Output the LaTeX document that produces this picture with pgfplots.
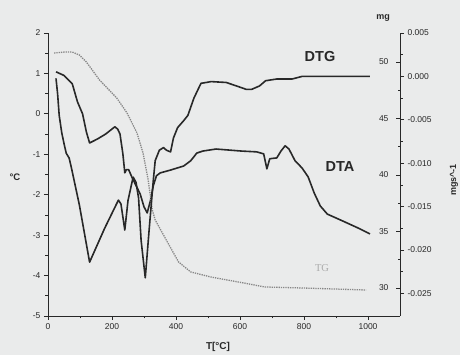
\documentclass[border=0pt]{standalone}
\usepackage{pgfplots}
\pgfplotsset{compat=1.18}
\usepackage{fontspec}
\setmainfont{Liberation Sans}
\newfontfamily\seriffont{Liberation Serif}
\definecolor{bg}{RGB}{234,235,235}
\definecolor{ink}{RGB}{40,40,40}
\definecolor{tgc}{RGB}{135,135,135}
\definecolor{tglab}{RGB}{170,170,170}
\begin{document}
\begin{tikzpicture}
\fill[bg] (-48pt,-39pt) rectangle (412pt,316pt);
\useasboundingbox (-48pt,-39pt) rectangle (412pt,316pt);
\pgfplotsset{
  base/.style={scale only axis, width=352pt, height=283pt, xmin=0, xmax=1100,
    tick label style={font=\fontsize{8.5}{9}\selectfont, text=ink},
    /pgf/number format/assume math mode=true,
    /pgf/number format/1000 sep={},
    axis line style={ink, line width=0.9pt, -},
    tick style={ink, line width=0.8pt},
    major tick length=4pt, minor tick length=2.5pt},
  curve/.style={ink, line width=1.6pt, line join=round, no marks},
}
% DTA, left axis (deg C)
\begin{axis}[base, axis x line*=bottom, axis y line*=left, tick align=outside,
  ymin=-5, ymax=2, ytick={-5,-4,...,2}, minor y tick num=1,
  xtick={0,200,...,1000}, minor x tick num=1]
\addplot[curve] coordinates {
(25,1.04) (50,0.95) (76,0.74) (92,0.30) (108,0.0) (120,-0.45) (130,-0.72)
(155,-0.62) (180,-0.50) (209,-0.32) (218,-0.38) (225,-0.50) (234,-0.99)
(240,-1.46) (245,-1.38) (252,-1.38) (263,-1.58) (288,-1.98) (300,-2.30)
(310,-2.45) (320,-2.15) (329,-1.78) (339,-1.53) (351,-1.46) (383,-1.39)
(424,-1.29) (446,-1.16) (465,-0.97) (484,-0.92) (525,-0.87) (604,-0.92)
(652,-0.94) (674,-0.99) (684,-1.36) (693,-1.11) (715,-1.09) (728,-0.92)
(741,-0.79) (753,-0.87) (772,-1.16) (794,-1.34) (813,-1.56) (832,-1.96)
(851,-2.28) (873,-2.48) (921,-2.65) (968,-2.82) (1006,-2.97)};
\end{axis}
% TG, mg axis (labels inside)
\begin{axis}[base, axis x line=none, axis y line*=right, tick align=inside,
  ymin=27.52, ymax=52.57, ytick={30,35,...,50}, minor y tick num=1,
  yticklabel style={anchor=east, xshift=-8pt}]
\addplot[tgc, densely dotted, line width=1.3pt, no marks] coordinates {
(19,50.80) (51,50.88) (76,50.88) (98,50.62) (120,50.0) (161,48.41)
(215,46.81) (247,45.49) (278,43.72) (297,41.95) (313,39.56) (326,36.90)
(335,36.02) (373,34.07) (408,32.30) (446,31.42) (509,30.97) (595,30.53)
(677,30.09) (794,30.0) (994,29.82)};
\end{axis}
% DTG, mg/s axis
\begin{axis}[base, axis x line=none, axis y line*=right, tick align=outside,
  ymin=-0.0276, ymax=0.005, ytick={-0.025,-0.02,...,0.005}, minor y tick num=1,
  scaled y ticks=false,
  yticklabel style={/pgf/number format/.cd, fixed, fixed zerofill, precision=3}]
\addplot[curve] coordinates {
(25,-0.00023) (30,-0.0020) (35,-0.0045) (43,-0.0065) (51,-0.0079)
(57,-0.00885) (66,-0.0094) (73,-0.0105) (98,-0.0148) (130,-0.0214)
(177,-0.0175) (220,-0.01425) (228,-0.0147) (240,-0.0177) (250,-0.0143)
(266,-0.0116) (275,-0.0122) (283,-0.0140) (291,-0.0189) (304,-0.0232)
(316,-0.0177) (329,-0.0120) (335,-0.0097) (348,-0.0085) (361,-0.0082)
(370,-0.0085) (383,-0.0087) (392,-0.0071) (405,-0.0059) (424,-0.0051)
(437,-0.0045) (456,-0.0025) (478,-0.0008) (510,-0.0006) (557,-0.0007)
(589,-0.0011) (620,-0.0015) (636,-0.0015) (661,-0.0011) (680,-0.0005)
(715,-0.0003) (763,-0.0003) (794,0.0) (889,0.0) (1006,0.0)};
\end{axis}
% labels
\node[font=\bfseries\fontsize{10}{10}\selectfont, text=ink] at (170pt,-31pt) {T[°C]};
\node[font=\bfseries\fontsize{9.5}{10}\selectfont, text=ink] at (-33pt,139pt) {°C};
\node[font=\bfseries\fontsize{9}{10}\selectfont, text=ink] at (335pt,298pt) {mg};
\node[font=\bfseries\fontsize{9}{10}\selectfont, text=ink, rotate=90] at (406pt,136pt) {mgs\textasciicircum-1};
\node[font=\bfseries\fontsize{14.5}{15}\selectfont, text=ink] at (272pt,259pt) {DTG};
\node[font=\bfseries\fontsize{14.5}{15}\selectfont, text=ink] at (292pt,149pt) {DTA};
\node[font=\seriffont\fontsize{10.5}{11}\selectfont, text=tglab] at (274pt,48pt) {TG};
\end{tikzpicture}
\end{document}
